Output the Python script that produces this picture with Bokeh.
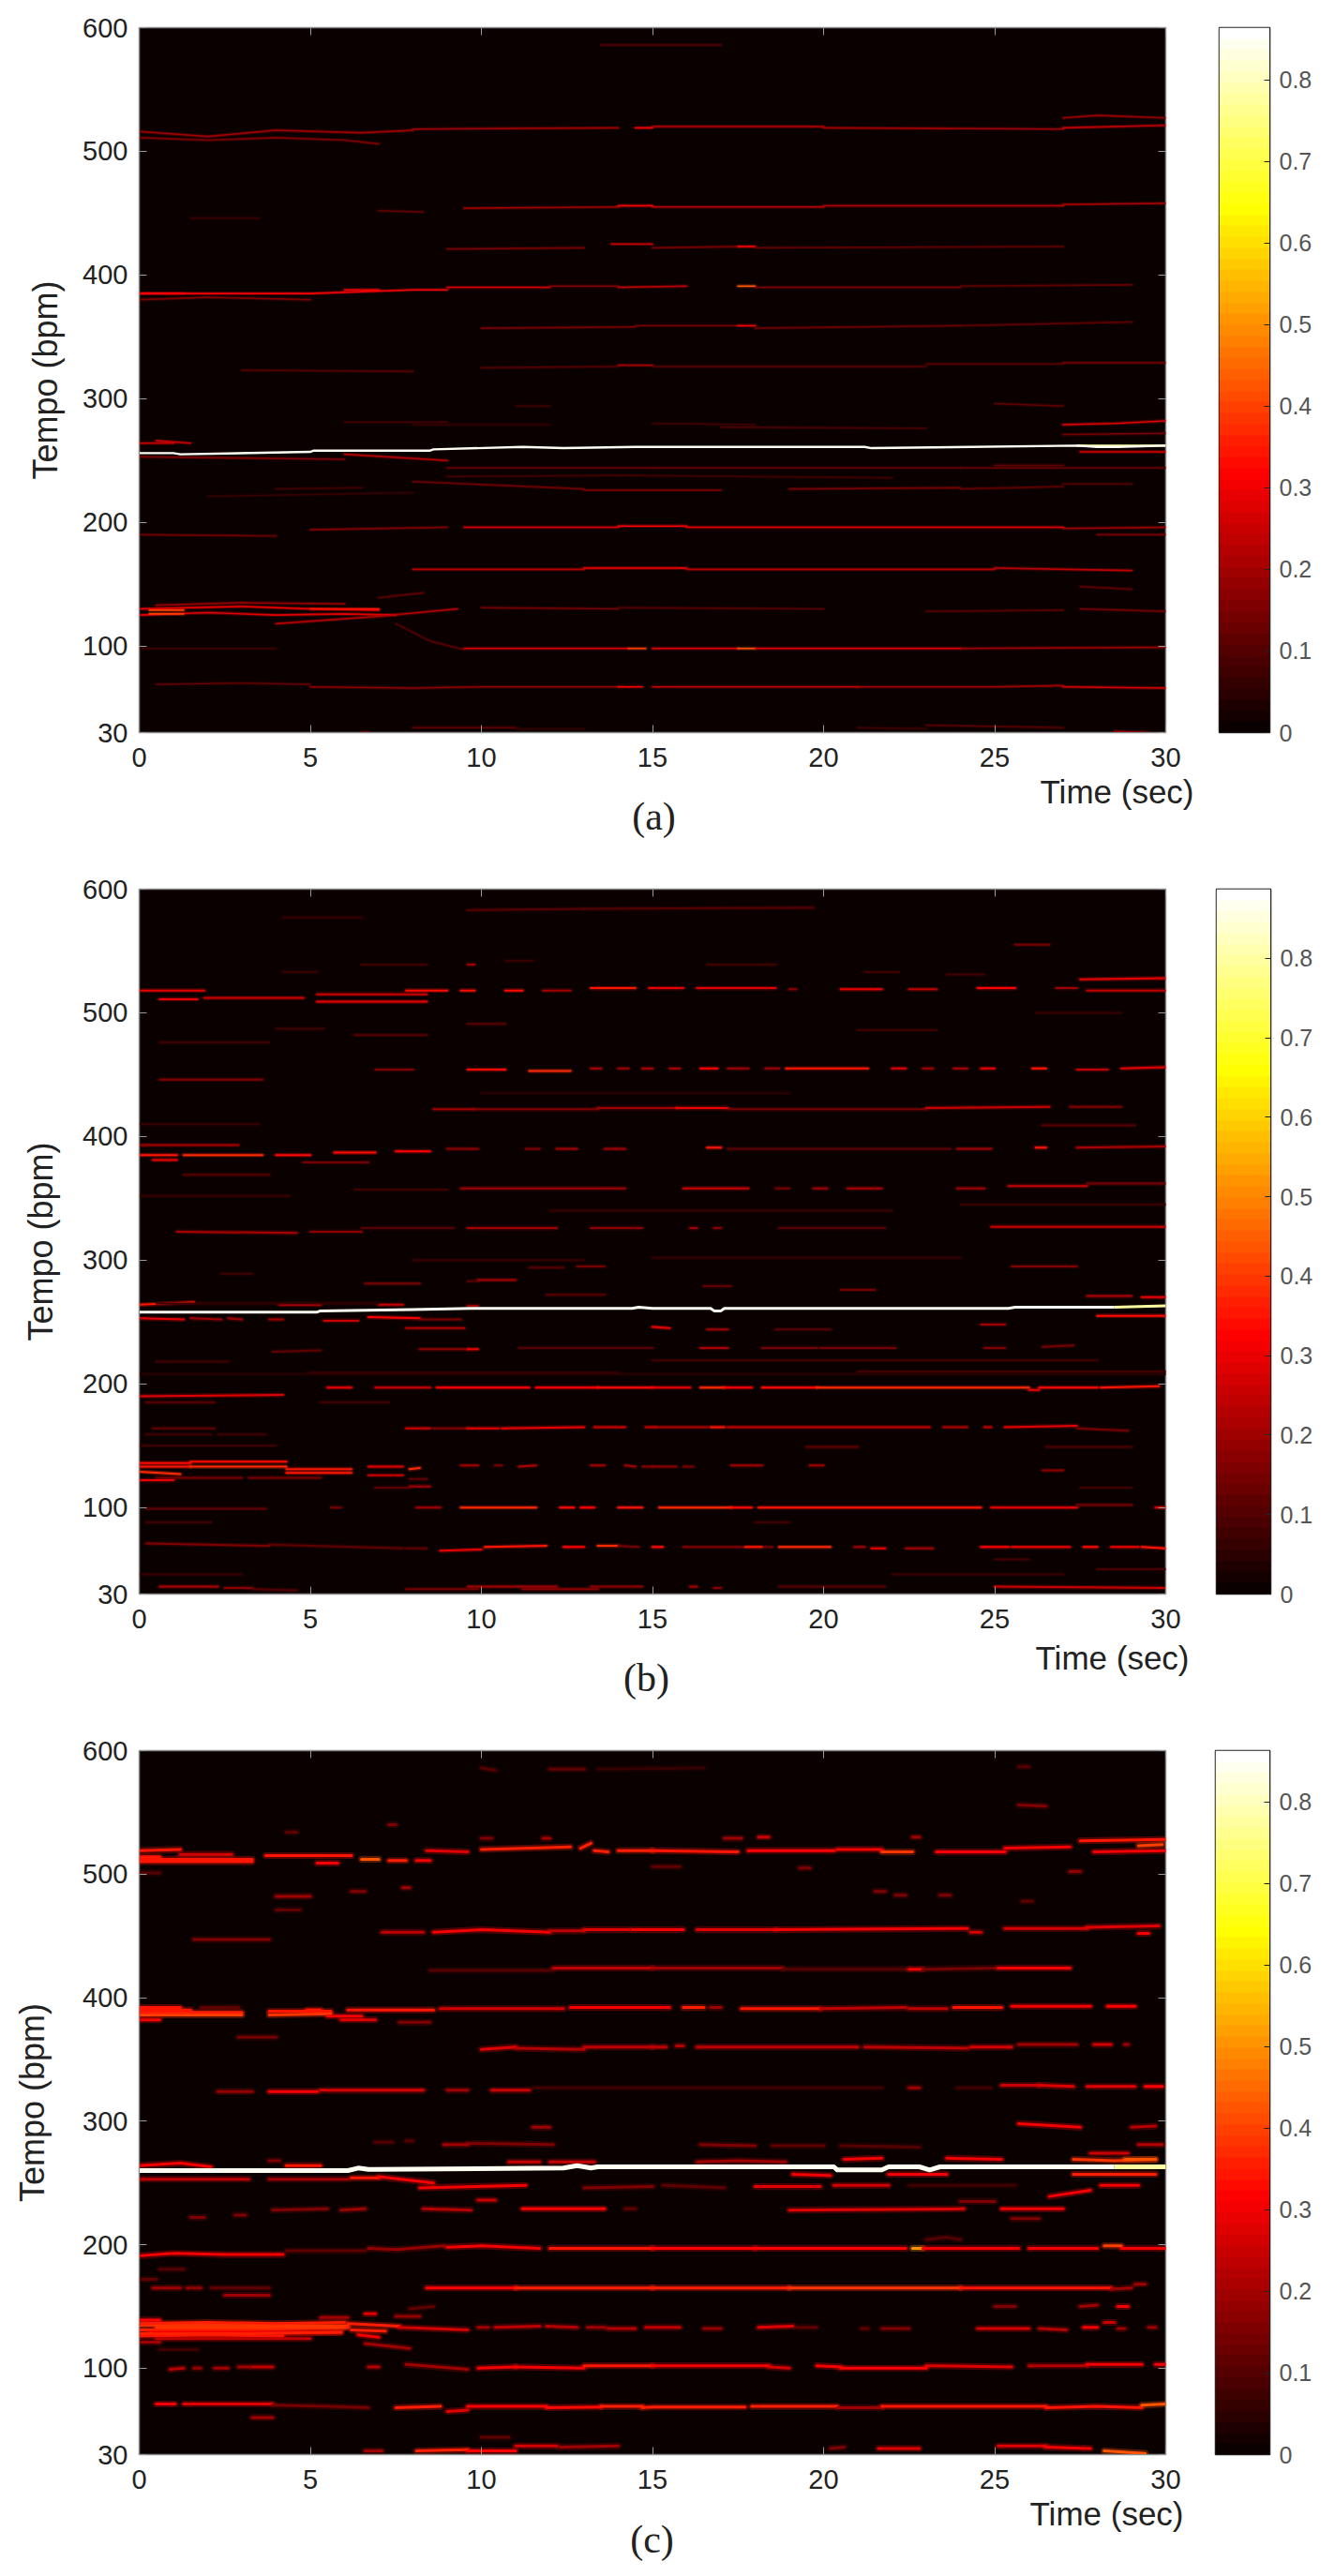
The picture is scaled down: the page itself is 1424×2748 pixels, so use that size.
import numpy as np
from bokeh.embed import file_html
from bokeh.layouts import column, row
from bokeh.models import ColumnDataSource, FixedTicker, Label, LinearAxis, LinearColorMapper, Range1d
from bokeh.plotting import figure
from bokeh.resources import INLINE

X_TICKS = [0, 5, 10, 15, 20, 25, 30]
Y_TICKS = [30, 100, 200, 300, 400, 500, 600]
CB_TICKS = [0, 0.1, 0.2, 0.3, 0.4, 0.5, 0.6, 0.7, 0.8]
PANEL_NAMES = ["(a)", "(b)", "(c)"]
PANEL_MAX = [0.864, 0.887, 0.863]

# Panel (a): ridge tracks
A_T = [
 [0.5,3,5],[5,8,10,14],[14,14.7],[15,18,21],[21,25,27],[27,30],
 [0,4],[7.5,8.5,9.5],[9.5,14.3],[14.3,14.8],[15,17.5],[17.5,18],[18,24],[24,30],
 [0,3,5,7],[0,2,4,6,7.5],[0.5,3,6],[4,7,9.3],[7,8.3],[10,14],[14,20],[23,27],[27.5,30],
 [8,13],[13,16],[16,25],[25,29],[27.5,29],
 [0,4],[5,9],[9.5,14],[14,16],[16,27],[27,30],[28,30],
 [4,6.5],[8,13],[13,17],[19,24],[24,27],[27,29],
 [0,3,6],[6,9],[9,15],[15,24],[24,30],
 [2,8],[9,14],[14,22],[25,27],
 [0.5,1.5],[6,9],[27,28.5,30],[27,30],[25,27],[15,18],[17,23],[8,12],[11,12],
 [3,8],[10,14],[14,15],[15,23],[23,27],[27,30],
 [10,14.5],[14.5,17.5],[17.5,18],[18,24],[24,29],
 [0,2,5,8,9],[0,2,5],[9,12],[12,14],[14,16],[17.5,18],[18,24],[24,29],
 [9,13],[13.8,15],[15,17.5],[17.5,18],[18,27],
 [7,8.3],[9.5,14],[14,15],[15,20],[20,27],[27,30],
 [1.5,3.5],
 [0,2,4,6.5,8],[0,2,4,6,7],[8,14],[14.5,15],[15,20],[20,27],[27,30],[27,28,30],
 [13.5,17],
 [8,11],[11,13],[21,23],[23,27],[28.5,29.5],[6.5,6.7],
 [0.3,1.3],[0.3,1.3],[5,7],[0,1.3],[6,7],[0,1],[27.5,30],
]
A_BPM = [
 [69,70,69],[67,66,67,67],[67,67],[67,67,67],[67,67,68],[67,66],
 [98,98],[118,104,97],[98,98],[98,98],[98,98],[98,98],[98,98],[98,99],
 [130,132,130,129],[125,127,125,126,125],[133,135,134],[118,124,130],[139,143],[131,130],[131,130],[128,129],[130,128],
 [162,162],[163,163],[162,162],[163,161],[148,146],
 [190,189],[194,196],[196,196],[197,197],[196,196],[195,196],[190,190],
 [227,228],[233,227],[226,226],[227,228],[227,229],[231,231],
 [253,252,251],[255,250],[244,244],[244,244],[244,244],
 [221,224],[237,238],[238,236],[246,246],
 [266,264],[281,281],[279,280,282],[271,272],[296,294],[280,279],[277,276],[279,279],[294,294],
 [323,322],[325,326],[327,327],[326,326],[328,328],[329,329],
 [357,358],[359,359],[359,359],[357,359],[359,362],
 [385,385,385,388,388],[380,382,380],[390,390],[391,391],[390,391],[391,391],[390,390],[391,392],
 [421,422],[425,425],[422,423],[423,423],[422,423],
 [452,451],[454,455],[456,456],[455,455],[456,456],[457,458],
 [446,446],
 [516,512,517,515,517],[511,509,511,509,506],[518,519],[519,519],[520,520],[519,518],[519,521],[527,529,527],
 [586,586],
 [34,34],[33,33],[34,33],[36,34],[31,30],[30,30],
 [126,126],[129,129],[130,130],[385,385],[388,388],[264,264],[257,257],
]
A_V = [
 .12,.17,.3,.24,.2,.26,
 .08,.1,.26,.4,.28,.42,.28,.2,
 .3,.28,.18,.22,.12,.14,.1,.1,.14,
 .22,.3,.22,.24,.12,
 .13,.15,.26,.3,.28,.2,.14,
 .08,.13,.14,.14,.12,.1,
 .16,.22,.12,.12,.12,
 .06,.08,.08,.12,
 .25,.08,.28,.14,.12,.08,.09,.06,.08,
 .1,.1,.2,.1,.1,.14,
 .14,.14,.3,.13,.12,
 .3,.16,.26,.16,.24,.42,.15,.12,
 .14,.24,.14,.32,.12,
 .12,.2,.32,.22,.22,.2,
 .06,
 .2,.16,.2,.3,.22,.2,.24,.18,
 .1,
 .12,.06,.07,.1,.2,.25,
 .4,.4,.34,.32,.3,.25,.26,
]
A_WHITE_T = [0,1,1.2,5,5.1,8.5,8.6,11.2,12.4,14.5,21.2,21.4,27.4,28,28.6,30]
A_WHITE_BPM = [256,256,255,257,258,258,259,261,260,261,261,260,262,261,261,262]

# Panel (b)
B_T = [
 # near 36 and 67 bpm
 [0.6,2.3],[2.5,3.3],[3.3,4.6],[9.6,12.2],[13.2,14.7],[16.1,16.3],[16.8,17],[18.7,21.8],[11.2,13.4],[7.8,9.9],[25,30],
 [0.2,3.8],[3.8,7.7],[7.8,8.4],[8.8,10],[10.1,11.9],[12.4,13],[13.4,14],[14,14.6],[15,15.3],[15.9,17.6],[17.7,18.2],[18.3,18.5],[18.7,20.2],[20.9,21.2],[21.4,21.8],[22.4,23.2],[24.6,25.4],[25.5,27.2],[27.6,28],[28.4,29.2],[29.3,30],
 # near 100
 [0.2,3.7],[5.6,5.9],[8.1,8.8],[9.4,11.6],[12.3,12.7],[12.9,13.3],[14,14.7],[15.2,17.3],[17.3,17.9],[18.1,24.6],[24.9,27.4],[27.4,29],[29.7,30],
 # 117 to 140
 [0,1.5],[1.5,4.3],[4.3,6.2],[0,1.2],[0.5,3],[3.2,5.3],[6.7,7.7],[6.7,7.7],[7.9,8.2],[7.9,8.5],[7.9,8.4],[0,1.5],[0,1],[1.5,4.3],[4.3,6.2],
 [9.4,9.9],[10.4,10.6],[11.1,11.6],[13.2,13.6],[14.2,14.5],[14.7,15],[15,15.7],[15.9,16.2],[17.3,18.2],[19.6,20],[26.4,27],
 # 159 to 197
 [0.4,2.2],[2.3,3.7],[7.8,8.5],[8.6,9.6],[9.6,10.5],[10.6,13],[13.3,14.2],[14.8,15.1],[15.1,16.6],[16.7,17.1],[17.2,23.1],[23.5,24.2],[24.7,24.9],[25.3,27.4],[27.4,28.9],
 [0,4.2],[5.5,6.2],[6.9,8.5],[8.7,11.4],[11.6,13.4],[13.4,15],[15,16.1],[16.4,17.1],[17.1,17.9],[18.2,19.8],[19.8,26],[26,26.3],[26.3,28],[28.1,29.8],[0.2,2.2],[5.3,7.3],
 # 218 to 245
 [0.5,2.6],[3.9,5.3],[8.2,9.6],[9.6,9.9],[11.1,15],[16.4,17.2],[18.2,19.8],[19.9,22.1],[24.7,25.3],[26.4,27.3],[15,15.5],[16.6,17.2],[18.6,20.2],[24.6,25.3],[7.8,9.5],
 # 251 to 298
 [0,1.3],[1.5,2.4],[2.6,3],[3.8,4.2],[5.4,6.4],[6.7,8.2],[8.2,9.4],[28,30],[0,1.6],[4.1,5.3],[7,7.7],[9.6,9.9],[11.9,13.6],[27.7,29],[29.3,30],
 [16.5,17.3],[20.5,21.5],[6.6,8.2],[9.6,9.9],[9.9,11],[25.5,27.4],[11.4,12.4],[12.8,13.6],[2.4,3.3],
 # 322 to 369
 [1.1,4.6],[5,6.5],[6.5,9.2],[9.6,12.2],[13.2,14.7],[16.1,16.3],[16.8,17],[18.7,21.8],[24.9,30],
 [6.3,9],[9.4,14.2],[15.9,17.8],[18.6,19],[19.7,20.1],[20.7,21.7],[23.9,24.7],[25.4,27.7],[27.7,30],[0,4.4],[1.3,3.8],
 # 385 to 409
 [0,1.1],[1.3,3.6],[4,5],[5.7,6.9],[7.5,8.5],[0,2.9],[4.8,6.7],[0.4,1.1],[9,9.9],[11.3,11.7],[12.2,12.8],[13.6,14.2],[16.6,17],[17.2,23.7],[23.9,24.9],[26.2,26.5],[27.4,30],[26.4,29.1],
 # 422 to 454
 [8.6,9.8],[9.8,13.4],[13.4,15.7],[15.7,17.2],[17.2,23],[23,26.6],[27.2,28.7],[0.6,3.6],
 [6.9,8],[9.6,10.7],[11.4,12.6],[13.2,13.5],[14,14.3],[14.7,15],[15.5,15.8],[16.4,16.9],[17.2,17.8],[18.3,18.7],[18.9,21.3],[22,22.4],[22.9,23.2],[23.8,24.2],[24.6,25],[26.1,26.5],[27.4,28.3],[28.7,30],
 # 476 to 554
 [0.6,3.8],[4,5.4],[6.3,8.4],[21,23.3],[9.6,10.7],[26.2,28.7],[0,1.9],[0.6,1.7],[1.9,4.8],[5.2,8.4],[5.2,8.4],[7.8,9],[9.4,9.8],[10.7,11.2],[11.8,12.6],[13.2,14.5],[14.9,15.9],[16.3,18.6],[19,19.2],[20.5,21.7],[22.5,23.3],[24.5,25.6],[26.8,27.4],[27.5,30],[27.7,30],
 [6.5,8.4],[9.6,9.8],[10.7,11.5],[16.6,18.6],[4.2,5.2],[21.2,22.2],[23.6,24.7],[25.6,26.6],
 # 577 to 584
 [9.6,13],[13,19.7],[4.2,6.5],
 # faint bands
 [15,28],[26.5,29],[19.5,21],[0,4],[0.2,2.1],[6.9,7.9],[27.5,29],[0.2,2.1],[18,19],[25,26],[28,30],[0,3],[22,27],[8,13],[15,24],
 [0,30],[5,14],[21,30],[0.5,7],[12,22],[24,30],[0,3.5],[10,19],
]
B_BPM = [
 [36,36],[35,35],[34,33],[36,36],[36,36],[36,36],[35,35],[36,36],[34,34],[34,34],[36,35],
 [71,69],[70,67],[67,67],[65,66],[68,69],[68,68],[69,69],[69,68],[68,68],[68,68],[68,68],[68,68],[68,68],[68,68],[67,67],[67,67],[68,68],[68,68],[68,68],[68,68],[68,67],
 [99,99],[100,100],[100,100],[100,100],[100,100],[100,100],[100,100],[100,100],[100,100],[100,100],[100,100],[102,102],[100,100],
 [133,133],[133,133],[131,131],[129,127],[124,124],[124,124],[133,133],[126,126],[131,132],[117,117],[123,123],[136,136],[122,122],[137,137],[128,128],
 [134,134],[134,134],[133,134],[134,134],[134,133],[133,133],[133,133],[133,133],[134,134],[134,134],[130,130],
 [164,164],[159,159],[164,164],[164,164],[164,164],[164,165],[165,165],[165,165],[165,165],[165,165],[165,165],[165,165],[165,165],[165,166],[164,162],
 [190,191],[197,197],[197,197],[197,197],[197,197],[197,197],[197,197],[197,197],[197,197],[197,197],[197,197],[195,195],[197,197],[197,198],[185,185],[185,185],
 [218,218],[226,227],[228,228],[228,228],[229,229],[229,229],[229,229],[229,229],[229,229],[230,231],[246,245],[244,244],[244,244],[248,248],[245,245],
 [253,252],[253,252],[253,252],[252,252],[251,251],[254,253],[252,252],[255,255],[264,266],[264,264],[264,264],[263,263],[272,272],[271,271],[270,270],
 [279,279],[276,276],[281,281],[283,283],[284,284],[295,295],[294,294],[295,295],[289,289],
 [323,322],[323,323],[326,326],[326,326],[326,326],[326,326],[326,326],[326,326],[327,327],
 [357,357],[358,358],[358,358],[358,358],[358,358],[358,358],[358,358],[360,360],[362,362],[352,352],[369,369],
 [385,385],[385,385],[385,385],[387,387],[388,388],[393,393],[379,379],[381,381],[390,390],[390,390],[390,390],[390,390],[391,391],[390,390],[390,390],[391,391],[391,392],[409,409],
 [422,422],[422,422],[423,423],[423,423],[422,422],[423,424],[424,424],[446,446],
 [454,454],[454,454],[453,453],[455,455],[455,455],[455,455],[455,455],[455,455],[455,455],[455,455],[455,455],[455,455],[455,455],[455,455],[455,455],[455,455],[454,454],[455,456],
 [476,476],[487,487],[482,482],[486,486],[491,491],[500,500],[518,518],[511,511],[512,512],[515,515],[509,509],[518,518],[518,518],[518,518],[518,518],[520,520],[520,520],[520,520],[519,519],[519,519],[519,519],[520,520],[520,520],[527,528],[518,518],
 [539,539],[539,539],[542,542],[539,539],[533,533],[533,533],[531,531],[555,555],
 [583,584],[584,585],[577,577],
 [219,219],[149,149],[149,149],[150,150],[159,159],[116,116],[116,116],[88,88],[88,88],[58,58],[50,50],[46,46],[46,46],[300,300],[302,302],
 [208,208],[209,209],[210,210],[265,265],[340,340],[345,345],[410,410],[435,435],
]
B_V = [
 .22,.18,.1,.2,.18,.2,.18,.1,.18,.14,.26,
 .16,.12,.12,.3,.36,.32,.38,.15,.34,.16,.36,.15,.38,.2,.3,.2,.32,.3,.34,.3,.36,
 .12,.14,.2,.38,.34,.32,.36,.38,.34,.36,.3,.14,.3,
 .36,.38,.36,.38,.14,.14,.28,.26,.38,.2,.12,.34,.3,.34,.36,
 .2,.14,.22,.2,.2,.16,.18,.14,.2,.2,.18,
 .12,.08,.26,.16,.28,.3,.26,.24,.22,.36,.24,.22,.24,.28,.14,
 .28,.3,.26,.32,.32,.34,.3,.38,.32,.34,.38,.3,.34,.36,.1,.08,
 .07,.12,.18,.3,.1,.22,.15,.15,.16,.14,.3,.2,.1,.2,.22,
 .3,.2,.2,.2,.26,.32,.15,.34,.36,.25,.25,.2,.1,.22,.3,
 .12,.14,.14,.1,.2,.16,.1,.15,.07,
 .22,.18,.1,.2,.18,.2,.18,.1,.26,
 .08,.2,.26,.14,.2,.22,.2,.24,.14,.06,.1,
 .36,.38,.34,.34,.32,.2,.14,.3,.18,.16,.2,.2,.36,.12,.2,.36,.22,.1,
 .2,.16,.2,.3,.15,.26,.16,.16,
 .16,.34,.38,.22,.2,.22,.22,.32,.2,.2,.36,.28,.2,.22,.3,.36,.24,.28,
 .07,.08,.1,.08,.1,.06,.28,.3,.26,.26,.3,.34,.34,.34,.2,.36,.3,.28,.18,.3,.24,.32,.2,.3,.24,
 .07,.2,.06,.08,.06,.08,.08,.15,
 .1,.1,.06,
 .08,.09,.12,.07,.08,.12,.07,.07,.07,.08,.09,.06,.06,.06,.06,
 .05,.06,.07,.06,.06,.06,.06,.05,
]
B_WHITE_T = [0,5.2,5.3,8,9.7,14.4,14.6,15,16.7,16.8,17,17.1,24.9,25.4,25.6,28.5]
B_WHITE_BPM = [258,258,259,260,261,261,262,261,261,259,259,261,261,261,262,262]

# Panel (c)
C_T = [
 # near 36 bpm
 [8.1,9.6],[9.6,11],[11,12.2],[12.3,14],[6.6,7.1],[10,10.8],[20.2,20.6],[21.6,22.8],[25.1,26.5],[26.5,27.8],[28.2,29.4],
 # near 69
 [.5,1.05],[1.3,2.5,3.9],[3.9,5.5,6.7],[7.5,8.8],[9,9.6],[9.6,11,11.9],[11.9,13.5],[13.5,14.7],[14.7,15,17.7],[17.9,20.4],[20.4,21.7],[21.7,26.5],[26.5,28,29.3],[29.3,30],[3.3,3.9],
 # near 100
 [.9,1.3],[1.6,1.8],[2.2,2.6],[2.9,3.2],[3.3,3.9],[6.7,7],[7.8,9.6],[9.9,11],[11,13],[13,15],[15,18.4],[18.4,19],[19.8,20.5],[20.5,23],[23,25.5],[26,27.7],[27.7,29.3],[29.7,30],
 # 118 to 144
 [0,.6],[0,3,6.1],[0,3,6.1],[0,2,4.2],[.3,5.9],[5.3,6.1],[6.1,7.6],[6.2,7.2],[6.4,7],[6.6,7.9],[6.6,6.9],[7.5,8.2],[0,.6],[.6,1.7],
 [7.6,9.6],[9.9,10.2],[10.4,11.7],[11.9,12.8],[13.1,13.6],[13.7,14.5],[14.8,15.8],[16.5,17],[18.1,19.1],[19.2,19.8],[21.1,21.3],[21.7,22.5],[24.5,26],[26.3,27.1],[27.6,28],[28.2,28.5],[28.6,28.8],[29.5,29.7],
 [25,25.6],[27.5,28],[28.6,28.9],[7.9,8.6],
 # 159 to 180
 [8.4,11],[11,15],[15,19],[19,24],[24,28.4],[28.4,29],[29.1,29.4],[.4,1.2],[1.4,1.8],[2.1,3.8],[2.5,3.8],[0,.5],[.6,1.3],
 # near 197
 [0,1,2.5,4.2],[4.3,6.6],[6.7,7.5,8.9],[9,10,11.7],[12,15],[15,18],[18,22.4],[22.6,22.9],[22.9,25.7],[26,28],[28.2,28.7],[28.7,30],[23,23.6,24],
 # 221 to 236
 [3.9,5.5],[5.9,6.6],[8.3,9.7],[11.2,13.6],[14.2,14.5],[1.5,1.9],[2.8,3.1],[19,24.1],[25.2,27],[24,25],[25.5,26.3],[9.9,10.4],
 # 239 to 257
 [0,3.2],[3.8,6.1],[6.2,7],[7,8.6],[8.2,11.3],[13,15],[15.3,17.1],[18,19.9],[20.3,21.9],[22.5,25.6],[26.6,27.8],[28.1,29.2],[19.1,20.2],[21.9,23.6],[27.3,29.7],
 # 264 to 298
 [0,1.2,2.1],[4.3,5.3],[3.8,4.1],[10.8,11.7],[12,13.3],[16.3,17.5,18.9],[20.6,21.7],[23.6,25.2],[27.3,28.5,29.7],[28.8,29.7],[27.8,28.9],[29.2,29.9],[25.7,27.5],[29,29.7],[9.6,12.1],[8.9,9.6],[6.9,7.4],[7.8,8],[11.5,12],[16.4,18],[18.5,20],[20.5,22.8],
 # near 325
 [2.3,3.3],[3.8,5.2],[5.3,8.3],[9,9.6],[10.3,11.4],[11.5,21.7],[22.5,22.8],[23.9,24.9],[25.2,26.3],[26.3,27.3],[27.7,29.1],[29.4,29.9],
 # near 360
 [10,11],[11,13],[13,15],[15,15.4],[15.7,15.9],[16.3,21],[21.2,24.2],[24.3,25.5],[25.7,27.4],[27.9,28.4],[28.8,28.9],[2.9,4],
 # near 390
 [0,3],[0,1.2],[0,.6],[3.8,5.6],[4.9,5.3],[6.1,8.6],[5.9,6.9],[7.6,8.5],[8.8,12.4],[12.6,15.5],[15.9,16.5],[16.7,17],[17.6,19.9],[19.9,22.4],[22.5,23.6],[23.8,25.2],[25.5,27.8],[28.3,29.1],[1.8,2.9],
 # near 423
 [8.5,12.1],[12.1,15],[15,18.8],[18.8,22.5],[22.5,22.9],[22.9,25],[25.1,27.2],
 # near 455
 [7.1,8.3],[8.6,10,12],[12,13],[13,14.3],[14.4,15.9],[16.3,18.6],[18.6,24.2],[24.3,24.6],[25.3,27.7],[27.7,29.8],[29.2,29.5],[1.6,3.8],
 # 470 to 502
 [4,5],[4,4.7],[6.2,6.6],[7.7,7.9],[0,.6],[15,15.8],[19.3,19.6],[21.5,21.8],[22.1,22.4],[23.4,23.7],[27.2,27.5],[25.8,26.1],
 # near 519
 [0,1.2],[1.2,2.7],[0,3.3],[0,.6],[3.7,6.2],[5.2,5.8],[6.5,7],[7.3,7.8],[8.1,8.5],[8.4,9.6],[10,12.6],[12.9,13.2],[13.3,13.7],[14,15],[15,17.5],[17.8,20.3],[20.4,21.7],[21.7,22.6],[23.3,25.3],[25.3,27.2],[27.5,30],[27.9,30],[29.2,29.9],
 [4.3,4.6],[7.3,7.5],[10,10.3],[11.8,12],[17.1,17.6],[18.1,18.4],[22.6,22.8],
 # 555 to 587
 [25.7,26.5],[10,10.4],[12,13],[13.4,16.5],[25.7,26],
 # filled clusters
 [0,2,4,6],[0.5,3,6],[0,3,5.9],[0.5,5],[0,3],[0,1.5],[3.8,5.6],[5.5,6.5],[0,3.3],
]
C_BPM = [
 [33,34],[33,33],[37,37],[36,37],[33,33],[44,44],[35,36],[35,35],[37,37],[36,35],[33,31],
 [71,71],[71,71,71],[70,69,68],[68,69],[65,66],[69,69,69],[68,68.5],[69,69],[68,68.5,68.5],[69,69],[68,68],[69,69],[68,69,68],[70,71],[60,60],
 [99,100],[100,100],[100,100],[101,101],[101,101],[101,101],[103,99],[100,101],[101,100],[102,102],[102,102],[101,100],[102,101],[100,100],[102,101],[102,102],[103,103],[103,103],
 [139,139],[135,135,134],[131,131,133],[126,127,126],[129,129],[141,141],[136,134],[131,130],[127,125],[120,116],[144,144],[142,142],[121,121],[115,115],
 [133,131],[133,133],[133,134],[134,133],[133,133],[132,132],[133,133],[132,132],[133,134],[133,133],[132,132],[132,132],[132,132],[132,131],[133,133],[137,137],[132,132],[133,133],
 [150,150],[150,151],[150,150],[148,150],
 [165,165],[165,165],[165,165],[165,165],[165,165],[164,165],[168,168],[165,165],[165,165],[165,165],[159,159],[172,172],[180,180],
 [191,193,192,192],[195,195],[197,196,199],[198,199,197],[197,197],[197,197],[197,197],[197,197],[197,197],[197,197],[199,199],[197,197],[204,206,204],
 [228,229],[228,229],[229,228],[229,229],[229,229],[222,222],[224,224],[228,229],[229,229],[235,235],[221,221],[236,236],
 [253,253],[253,253],[254,254],[255,250],[246,248],[246,247],[248,246],[247,247],[248,248],[248,248],[239,244],[248,248],[257,256],[257,257],[257,257],
 [264,266,263],[264,264],[268,268],[267,267],[267,267],[267,268,267],[269,270],[270,269],[269,268,269],[269,269],[274,274],[281,281],[298,295],[295,296],[282,281],[281,281],[283,283],[284,284],[295,295],[281,280],[280,280],[280,279],
 [324,324],[324,324],[325,325],[325,325],[325,325],[327,327],[327,327],[327,327],[329,329],[329,328],[328,328],[328,328],
 [358,360],[359,358],[360,360],[360,360],[361,361],[360,360],[360,359],[360,360],[362,362],[362,362],[362,362],[368,368],
 [386,386],[392,392],[382,382],[386,387],[390,390],[390,390],[382,382],[380,380],[391,391],[392,392],[392,392],[392,392],[391,391],[391,392],[391,391],[392,392],[393,393],[393,393],[392,392],
 [422,422],[424,424],[424,424],[423,423],[423,423],[423,424],[424,424],
 [453,453],[453,455,453],[454,454],[455,455],[455,455],[455,455],[455,456],[453,453],[456,456],[457,458],[452,452],[447,447],
 [482,482],[471,471],[486,486],[489,489],[501,501],[506,506],[505,505],[486,486],[483,483],[483,483],[502,502],[478,478],
 [519,520],[516,516],[510,510],[514,514],[515,515],[509,509],[512,512],[511,511],[511,511],[519,518],[520,522],[521,525],[519,518],[519,519],[519,518],[519,519],[520,520],[518,518],[518,518],[521,522],[527,528],[518,519],[523,524],
 [534,534],[540,540],[529,529],[529,529],[529,529],[530,530],[530,530],
 [556,555],[586,584],[585,585],[585,586],[587,587],
 [136,137,136,137],[133,133,133],[128,128,129],[124,124],[388,388],[390,390],[389,389],[385,385],[512,512],
]
C_V = [
 .36,.32,.26,.2,.2,.12,.15,.28,.28,.3,.42,
 .3,.28,.14,.36,.28,.32,.33,.36,.36,.36,.2,.34,.34,.42,.2,
 .22,.18,.2,.2,.24,.22,.2,.3,.3,.34,.3,.26,.3,.32,.28,.22,.3,.3,
 .32,.38,.36,.34,.3,.2,.36,.36,.3,.2,.28,.18,.2,.08,
 .26,.2,.24,.22,.2,.22,.24,.18,.28,.12,.12,.16,.26,.22,.3,.25,.2,.2,
 .15,.2,.3,.12,
 .32,.36,.36,.38,.34,.2,.2,.2,.18,.12,.2,.12,.1,
 .3,.12,.18,.3,.34,.32,.32,.5,.3,.3,.4,.3,.1,
 .15,.2,.22,.32,.12,.15,.15,.28,.3,.15,.15,.25,
 .24,.2,.34,.3,.3,.15,.12,.28,.26,.08,.3,.3,.3,.3,.36,
 .3,.34,.15,.25,.25,.2,.3,.3,.38,.42,.25,.22,.3,.22,.15,.2,.1,.1,.2,.15,.12,.1,
 .18,.3,.26,.2,.25,.08,.2,.08,.25,.28,.28,.32,
 .28,.22,.24,.24,.22,.24,.24,.26,.2,.26,.2,.14,
 .4,.34,.3,.38,.34,.34,.28,.15,.26,.3,.36,.2,.34,.24,.24,.34,.3,.32,.12,
 .1,.24,.2,.1,.3,.14,.3,
 .24,.3,.24,.28,.3,.28,.3,.26,.26,.28,.3,.15,
 .2,.12,.15,.2,.1,.12,.15,.15,.15,.15,.18,.12,
 .34,.26,.34,.34,.34,.3,.42,.36,.3,.28,.36,.36,.36,.36,.34,.32,.3,.38,.32,.3,.34,.3,.4,
 .12,.15,.15,.2,.2,.25,.2,
 .15,.1,.12,.06,.1,
 .36,.38,.36,.24,.36,.34,.34,.3,.34,
]
C_WHITE_T = [0,6.1,6.4,6.7,6.9,12.4,12.8,13,13.2,13.4,20.3,20.4,21.7,21.9,22.8,23.1,23.4,28.5]
C_WHITE_BPM = [260,260,262,261,261,262,264,263,262,263,263,260.5,260.5,263,263,260.5,263,263]

PANEL_T = [A_T, B_T, C_T]
PANEL_BPM = [A_BPM, B_BPM, C_BPM]
PANEL_V = [A_V, B_V, C_V]
WHITE_T = [A_WHITE_T, B_WHITE_T, C_WHITE_T]
WHITE_BPM = [A_WHITE_BPM, B_WHITE_BPM, C_WHITE_BPM]
YELLOW_T = [[27.4, 30], [28.5, 30], [28.5, 30]]
YELLOW_BPM = [[262, 262], [262, 263], [263, 263]]

for ts, bs, vs in zip(PANEL_T, PANEL_BPM, PANEL_V):
    assert len(ts) == len(bs) == len(vs), (len(ts), len(bs), len(vs))
    assert all(len(t) == len(y) for t, y in zip(ts, bs))

# MATLAB "hot" colormap
n = 64
k = int(n * 3 / 8)
r = np.concatenate([np.arange(1, k + 1) / k, np.ones(n - k)])
g = np.concatenate([np.zeros(k), np.arange(1, k + 1) / k, np.ones(n - 2 * k)])
b = np.concatenate([np.zeros(2 * k), np.arange(1, n - 2 * k + 1) / (n - 2 * k)])
HOT = ["#%02x%02x%02x" % (int(x * 255), int(y * 255), int(z * 255)) for x, y, z in zip(r, g, b)]

FRAME_W = 1095
FRAME_H = [752, 752, 751]
TOP = [29, 20, 20]
CAP_OVERLAP = 14
CAP_H = [98, 98, 73]
CB_GAP = [37, 34, 33]
CB_W = [54, 58, 58]
YLABEL_STANDOFF = [16, 21, 30]
TIME_RIGHT = [1273, 1268, 1262]
TIME_Y = [14, 19, 14]
NAME_X = [697, 689, 695]
NAME_Y = [40, 40, 41]
LINE_W = [1.6, 2.0, 3.0]
WHITE_W = [2.4, 3.0, 5.0]
SANS = "Liberation Sans"

rows = []
for i in range(3):
    mapper = LinearColorMapper(palette=HOT, low=0, high=PANEL_MAX[i])
    p = figure(frame_width=FRAME_W, frame_height=FRAME_H[i], x_range=(0, 30), y_range=(30, 600),
               output_backend="svg", toolbar_location=None, min_border_left=148, min_border_right=20,
               min_border_top=TOP[i], min_border_bottom=49,
               background_fill_color=HOT[0], outline_line_color="#8a8a8a", outline_line_width=1.5)
    p.grid.visible = False
    src = ColumnDataSource(dict(xs=PANEL_T[i], ys=PANEL_BPM[i], v=PANEL_V[i]))
    p.multi_line("xs", "ys", source=src, line_width=LINE_W[i] * 2.4, line_alpha=0.3, line_join="round",
                 line_cap="round", line_color={"field": "v", "transform": mapper})
    p.multi_line("xs", "ys", source=src, line_width=LINE_W[i], line_join="round", line_cap="round",
                 line_color={"field": "v", "transform": mapper})
    p.line(YELLOW_T[i], YELLOW_BPM[i], line_color="#ffffa0", line_width=WHITE_W[i])
    p.line(WHITE_T[i], WHITE_BPM[i], line_color="#fffff4", line_width=WHITE_W[i], line_join="round")

    p.xaxis.ticker = FixedTicker(ticks=X_TICKS)
    p.yaxis.ticker = FixedTicker(ticks=Y_TICKS)
    for ax in (p.xaxis[0], p.yaxis[0]):
        ax.major_tick_in = 8
        ax.major_tick_out = 0
        ax.minor_tick_line_color = None
        ax.major_tick_line_color = "#999999"
        ax.axis_line_color = "#8a8a8a"
        ax.major_label_text_font = SANS
        ax.major_label_text_font_size = "29px"
        ax.major_label_text_color = "#222222"
    p.xaxis[0].major_label_standoff = 16
    p.yaxis[0].major_label_standoff = 12
    p.yaxis[0].axis_label = "Tempo (bpm)"
    p.yaxis[0].axis_label_text_font = SANS
    p.yaxis[0].axis_label_text_font_size = "36px"
    p.yaxis[0].axis_label_text_font_style = "normal"
    p.yaxis[0].axis_label_text_color = "#222222"
    p.yaxis[0].axis_label_standoff = YLABEL_STANDOFF[i]

    for side, ticks in (("above", X_TICKS), ("right", Y_TICKS)):
        ax = LinearAxis(ticker=FixedTicker(ticks=ticks), major_tick_in=8, major_tick_out=0,
                        major_tick_line_color="#999999", minor_tick_line_color=None,
                        axis_line_color=None, major_label_text_color=None,
                        major_label_text_font_size="1px", major_label_standoff=0)
        p.add_layout(ax, side)

    cb = figure(frame_width=CB_W[i], frame_height=FRAME_H[i], x_range=(0, 1), y_range=(0, PANEL_MAX[i]),
                output_backend="svg", toolbar_location=None, min_border_left=CB_GAP[i], min_border_right=8,
                min_border_top=TOP[i], min_border_bottom=49,
                outline_line_color="#222222", outline_line_width=1.5, y_axis_location="right")
    cb.grid.visible = False
    cb.xaxis.visible = False
    cb.image(image=[np.linspace(0, PANEL_MAX[i], 256).reshape(-1, 1)], x=0, y=0, dw=1, dh=PANEL_MAX[i],
             color_mapper=mapper)
    cb.yaxis.ticker = FixedTicker(ticks=CB_TICKS)
    cb.yaxis.major_label_overrides = {0: "0"}
    ax = cb.yaxis[0]
    ax.major_tick_in = 6
    ax.major_tick_out = 0
    ax.minor_tick_line_color = None
    ax.major_tick_line_color = "#222222"
    ax.axis_line_color = "#222222"
    ax.major_label_text_font = SANS
    ax.major_label_text_font_size = "25px"
    ax.major_label_text_color = "#555555"
    ax.major_label_standoff = 10

    h = CAP_H[i] + CAP_OVERLAP
    cap = figure(frame_width=1416, frame_height=h, x_range=Range1d(0, 1416), y_range=Range1d(h, 0),
                 output_backend="svg", toolbar_location=None, x_axis_type=None, y_axis_type=None,
                 min_border=0, outline_line_color=None, border_fill_color=None, background_fill_color=None,
                 margin=(-CAP_OVERLAP, 0, 0, 0))
    cap.grid.visible = False
    cap.add_layout(Label(x=TIME_RIGHT[i], y=TIME_Y[i] + CAP_OVERLAP, text="Time (sec)", text_align="right",
                         text_baseline="middle", text_font=SANS, text_font_size="35px", text_color="#222222"))
    cap.add_layout(Label(x=NAME_X[i], y=NAME_Y[i] + CAP_OVERLAP, text=PANEL_NAMES[i], text_align="center",
                         text_baseline="middle", text_font="Liberation Serif", text_font_size="42px",
                         text_color="#222222"))
    rows.append(column(row(p, cb, spacing=0), cap, spacing=0))

layout = column(*rows, spacing=0)
open("out.html", "w").write(file_html(layout, INLINE))
